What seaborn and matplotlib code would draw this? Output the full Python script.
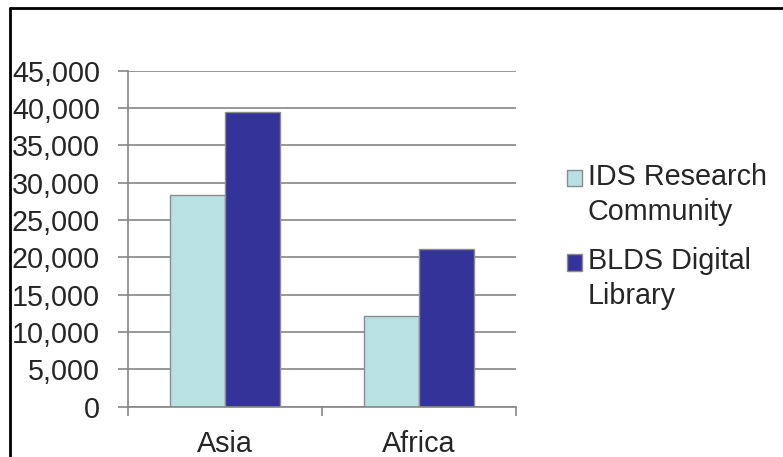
import pandas as pd
import numpy as np
import matplotlib
matplotlib.use("Agg")
import matplotlib.pyplot as plt
import seaborn as sns
from matplotlib.lines import Line2D
from matplotlib.patches import Patch, Rectangle
from matplotlib.legend_handler import HandlerPatch
from matplotlib.ticker import FuncFormatter

# values
regions = ['Asia', 'Africa']
series = ['IDS Research\nCommunity', 'BLDS Digital\nLibrary']
ids_values = [28400, 12100]
blds_values = [39500, 21100]
colors = ['#B9E0E3', '#333399']

df = pd.DataFrame({
    'Region': regions * 2,
    'Source': [series[0]] * 2 + [series[1]] * 2,
    'Users': ids_values + blds_values,
})

sns.set_style('white')
plt.rcParams['font.family'] = ['Liberation Sans', 'DejaVu Sans']
fs = 20.7

fig = plt.figure(figsize=(7.83, 4.57), dpi=100)
ax = fig.add_axes([0.1635, 0.110, 0.4955, 0.735])

sns.barplot(data=df, x='Region', y='Users', hue='Source', order=regions,
            hue_order=series, palette=colors, saturation=1, width=0.572, gap=0,
            edgecolor='#8c8c8c', linewidth=1, legend=False, ax=ax)

ax.set_ylim(0, 45000)
ax.set_xlim(-0.5, 1.5)
ax.set_yticks(np.arange(0, 45001, 5000))
ax.yaxis.set_major_formatter(FuncFormatter(lambda v, p: f'{int(v):,}'))
ax.set_xlabel('')
ax.set_ylabel('')

ax.grid(axis='y', color='#868686', linewidth=1.2)
ax.set_axisbelow(True)
for s in ['top', 'right']:
    ax.spines[s].set_visible(False)
for s in ['left', 'bottom']:
    ax.spines[s].set_color('#868686')
    ax.spines[s].set_linewidth(1.2)

ax.tick_params(axis='y', length=7.2, width=1.2, color='#868686', direction='out',
               labelsize=fs, pad=13, left=True)
ax.tick_params(axis='x', which='major', length=0, labelsize=fs, pad=16.5)
ax.set_xticks([-0.5, 0.5, 1.5], minor=True)
ax.tick_params(axis='x', which='minor', length=6.5, width=1.2, color='#868686',
               direction='out', bottom=True)


# legend square sits next to the first line of each label
def top_square(legend, orig_handle, xdescent, ydescent, width, height, fontsize):
    return Rectangle((-xdescent, -ydescent + 0.6 * fontsize), width, height)


handles = [Patch(facecolor=c, edgecolor='#8c8c8c', linewidth=1) for c in colors]
leg = fig.legend(handles, series, loc='upper left', bbox_to_anchor=(0.724, 0.643),
                 frameon=False, fontsize=fs, handlelength=0.52, handleheight=0.52,
                 handletextpad=0.2, labelspacing=0.75, borderpad=0, borderaxespad=0,
                 handler_map={Patch: HandlerPatch(patch_func=top_square)})
for t in leg.get_texts():
    t.set_linespacing(1.3)

# black frame on the left and top edges
fig.add_artist(Line2D([0.0134, 0.0134], [0, 0.983], color='black', linewidth=2,
                      transform=fig.transFigure))
fig.add_artist(Line2D([0.0134, 1.0], [0.983, 0.983], color='black', linewidth=2,
                      transform=fig.transFigure))

fig.savefig('out.png', dpi=100)
